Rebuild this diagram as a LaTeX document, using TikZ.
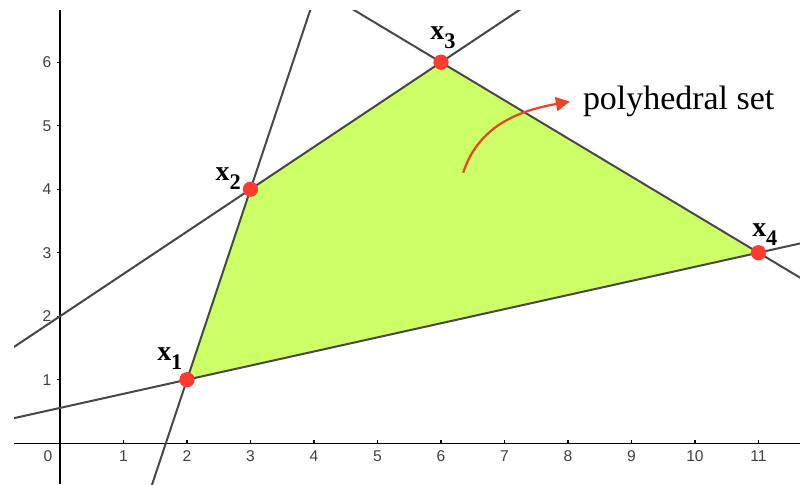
\documentclass[tikz,border=0pt]{standalone}
\usepackage{fontspec}
\setmainfont{Liberation Serif}
\setsansfont{Liberation Sans}
\usepackage{xcolor}
\usetikzlibrary{arrows.meta,positioning,calc}

\definecolor{setgreen}{RGB}{204,255,102}
\definecolor{ptred}{RGB}{255,59,48}
\definecolor{arrred}{RGB}{232,68,42}

\newcommand{\vlab}[1]{\textbf{x}\raisebox{-4pt}{\fontsize{10}{12}\selectfont\textbf{#1}}}

\begin{document}
\begin{tikzpicture}[
    bnd/.style={draw=black!72, line width=0.9pt},
    axis/.style={draw=black, line width=0.5pt},
    vdot/.style={circle, fill=ptred, inner sep=0pt, minimum size=0.24cm},
    vlbl/.style={font=\fontsize{12.5}{15}\selectfont, inner sep=0pt},
    num/.style={font=\sffamily\fontsize{7}{8}\selectfont, text=black!75, inner sep=0pt},
    arr/.style={-{Triangle[length=2.2mm,width=2.2mm]}, line width=1pt, draw=arrred}
]
\useasboundingbox (-0.945,-0.645) rectangle (11.654,6.98);

% axes
\coordinate (xa) at (-0.724,0);
\coordinate (xb) at (11.654,0);
\coordinate (ya) at (0,-0.645);
\coordinate (yb) at (0,6.82);
\draw[axis] (xa) -- (xb);
\draw[axis] (ya) -- (yb);
\foreach \i in {1,...,11} {
  \draw[axis] (\i,0) -- (\i,0.05);
  \node[num] (tx\i) at (\i,-0.21) {\i};
}
\node[num] (tx0) at (-0.19,-0.21) {0};
\foreach \j in {1,...,6} {
  \draw[axis] (0,\j) -- (-0.05,\j);
  \node[num, anchor=east] (ty\j) at (-0.13,\j) {\j};
}

% vertices
\coordinate (p1) at (2,1);
\coordinate (p2) at (3,4);
\coordinate (p3) at (6,6);
\coordinate (p4) at (11,3);

\fill[setgreen] (p1) -- (p2) -- (p3) -- (p4) -- cycle;

\begin{scope}
\clip (-0.724,-0.645) rectangle (11.654,6.82);
\draw[bnd] ($(p1)!-4!(p2)$) -- ($(p2)!-4!(p1)$);
\draw[bnd] ($(p2)!-4!(p3)$) -- ($(p3)!-4!(p2)$);
\draw[bnd] ($(p3)!-4!(p4)$) -- ($(p4)!-4!(p3)$);
\draw[bnd] ($(p1)!-4!(p4)$) -- ($(p4)!-4!(p1)$);
\end{scope}

\node[vdot] (v1) at (p1) {};
\node[vdot] (v2) at (p2) {};
\node[vdot] (v3) at (p3) {};
\node[vdot] (v4) at (p4) {};

\node[vlbl] (l1) at ($(p1)+(-0.27,0.33)$) {\vlab{1}};
\node[vlbl] (l2) at ($(p2)+(-0.35,0.16)$) {\vlab{2}};
\node[vlbl] (l3) at ($(p3)+(0.03,0.39)$) {\vlab{3}};
\node[vlbl] (l4) at ($(p4)+(0.1,0.29)$) {\vlab{4}};

% label with arrow
\coordinate (a0) at (6.35,4.26);
\node[anchor=west, inner xsep=0.2cm, inner ysep=0pt, font=\fontsize{15.2}{17}\selectfont] (poly) at (8.03,5.38) {polyhedral set};
\draw[arr] (a0) to[out=72, in=190] (poly.west);
\end{tikzpicture}
\end{document}
